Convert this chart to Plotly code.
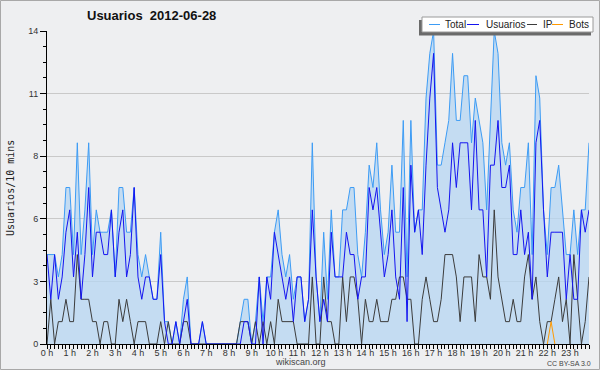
import plotly.graph_objects as go

# ---------------- data (10-minute samples, 00:00 .. 23:50) ----------------
hour_labels = ["0 h", "1 h", "2 h", "3 h", "4 h", "5 h", "6 h", "7 h", "8 h", "9 h",
               "10 h", "11 h", "12 h", "13 h", "14 h", "15 h", "16 h", "17 h", "18 h",
               "19 h", "20 h", "21 h", "22 h", "23 h"]

total = [4, 4, 4, 3, 4, 7, 7, 4, 9, 4,
         6, 9, 4, 6, 5, 5, 5, 6, 3, 7,
         7, 5, 5, 7, 4, 3, 4, 3, 2, 2,
         5, 1, 1, 0, 1, 0, 2, 3, 0, 0,
         0, 1, 0, 0, 0, 0, 0, 0, 0, 0,
         0, 1, 2, 2, 0, 1, 3, 1, 3, 3,
         5, 6, 4, 3, 4, 2, 3, 3, 1, 2,
         9, 3, 1, 5, 2, 6, 3, 3, 6, 6,
         7, 7, 4, 3, 5, 8, 7, 9, 6, 4,
         5, 8, 5, 5, 10, 3, 10, 5, 6, 6,
         11, 13, 14, 8, 8, 9, 10, 13, 10, 10,
         12, 12, 9, 11, 10, 9, 6, 10, 14, 13,
         9, 8, 9, 6, 5, 7, 7, 9, 4, 12,
         11, 6, 4, 7, 7, 8, 6, 4, 4, 6,
         4, 6, 6, 9]

usuarios = [4, 2, 4, 2, 3, 5, 6, 3, 5, 2,
            4, 7, 3, 5, 5, 4, 4, 6, 3, 5,
            6, 3, 4, 7, 3, 2, 3, 3, 2, 2,
            4, 1, 0, 0, 1, 0, 1, 2, 0, 0,
            0, 1, 0, 0, 0, 0, 0, 0, 0, 0,
            0, 0, 1, 1, 0, 0, 3, 0, 3, 2,
            5, 4, 3, 2, 3, 1, 3, 3, 1, 2,
            6, 3, 1, 2, 1, 5, 3, 3, 3, 5,
            4, 4, 2, 3, 3, 7, 6, 7, 5, 3,
            4, 6, 3, 2, 7, 1, 8, 5, 6, 4,
            8, 11, 13, 7, 6, 5, 6, 9, 7, 9,
            9, 9, 6, 10, 6, 6, 3, 8, 8, 10,
            7, 7, 8, 4, 4, 6, 4, 5, 2, 9,
            10, 6, 3, 5, 5, 5, 5, 2, 4, 2,
            2, 6, 5, 6]

ip = [0, 2, 0, 1, 1, 2, 1, 1, 4, 2,
      2, 2, 1, 1, 0, 1, 1, 0, 0, 2,
      1, 2, 1, 0, 1, 1, 1, 0, 0, 0,
      1, 0, 1, 0, 0, 0, 1, 1, 0, 0,
      0, 0, 0, 0, 0, 0, 0, 0, 0, 0,
      0, 1, 1, 1, 0, 1, 0, 1, 0, 1,
      0, 2, 1, 1, 1, 1, 0, 0, 0, 0,
      3, 0, 0, 3, 1, 1, 0, 0, 3, 1,
      3, 3, 2, 0, 2, 1, 1, 2, 1, 1,
      1, 2, 2, 3, 3, 2, 2, 0, 0, 2,
      3, 2, 1, 1, 2, 4, 4, 4, 3, 1,
      3, 3, 3, 1, 4, 3, 3, 2, 6, 3,
      2, 1, 1, 2, 1, 1, 3, 4, 2, 3,
      1, 0, 1, 1, 2, 3, 1, 2, 0, 4,
      2, 0, 1, 3]

bots = [0] * 133 + [1] + [0] * 10

y_tickvals = [0, 2.8, 5.6, 8.4, 11.2, 14]
y_ticktext = ["0", "3", "6", "8", "11", "14"]

# ---------------- geometry helpers (pixel -> paper) ----------------
W, H = 600, 370
L, R, T, B = 47, 11, 31, 26
PW, PH = W - L - R, H - T - B


def px(xp):
    return (xp - L) / PW


def py(yp):
    return (H - B - yp) / PH


n = len(total)
x = [i / 6 for i in range(n)]
# bots: only draw the segments around non-zero samples
bots_plot = [v if (v or (i > 0 and bots[i - 1]) or (i < n - 1 and bots[i + 1])) else None
             for i, v in enumerate(bots)]

BG = "#eeeff1"
C_TOTAL = "#3d9cf5"
C_USR = "#1414f0"
C_IP = "#3c3c3c"
C_BOTS = "#ff9900"

fig = go.Figure()
fig.add_trace(go.Scatter(x=x, y=total, mode="lines", name="Total",
                         line=dict(color=C_TOTAL, width=1),
                         fill="tozeroy", fillcolor="rgba(182,213,242,0.75)",
                         showlegend=False, hoverinfo="skip"))
fig.add_trace(go.Scatter(x=x, y=ip, mode="lines", name="IP",
                         line=dict(color=C_IP, width=1), showlegend=False))
fig.add_trace(go.Scatter(x=x, y=usuarios, mode="lines", name="Usuarios",
                         line=dict(color=C_USR, width=1), showlegend=False))
fig.add_trace(go.Scatter(x=x, y=bots_plot, mode="lines", name="Bots",
                         line=dict(color=C_BOTS, width=1), showlegend=False,
                         connectgaps=False))

tickfont = dict(family="Liberation Sans", size=9, color="#333333")

fig.update_layout(
    width=W, height=H,
    margin=dict(l=L, r=R, t=T, b=B, pad=0),
    paper_bgcolor=BG, plot_bgcolor=BG,
    showlegend=False,
    xaxis=dict(range=[0, (n - 1) / 6], tickmode="array",
               tickvals=list(range(24)), ticktext=hour_labels,
               ticks="outside", ticklen=4, tickcolor="black", tickwidth=1,
               showline=True, linecolor="black", linewidth=1,
               showgrid=False, zeroline=False, tickfont=tickfont,
               automargin=False, ticklabelstandoff=-4,
               minor=dict(dtick=1 / 6, tick0=0, ticks="outside", ticklen=4,
                          tickcolor="black", showgrid=False)),
    yaxis=dict(range=[0, 14], tickmode="array", tickvals=y_tickvals,
               ticktext=y_ticktext, ticks="outside", ticklen=6,
               tickcolor="black", showline=True, linecolor="black", linewidth=1,
               showgrid=True, gridcolor="#c9c9c9", gridwidth=1,
               zeroline=False, tickfont=tickfont, automargin=False,
               minor=dict(dtick=0.7, tick0=0, ticks="outside", ticklen=3,
                          tickcolor="black", showgrid=False)),
)

shapes = []
annotations = []

# outer frame
shapes.append(dict(type="rect", xref="paper", yref="paper",
                   x0=px(0.5), x1=px(599.5), y0=py(369.5), y1=py(0.5),
                   line=dict(color="#a8a8a8", width=1)))

# legend box with shadow
shapes.append(dict(type="rect", xref="paper", yref="paper",
                   x0=px(419), x1=px(591), y0=py(35.5), y1=py(20),
                   fillcolor="#6a6a6a", line=dict(width=0)))
shapes.append(dict(type="rect", xref="paper", yref="paper",
                   x0=px(422), x1=px(593), y0=py(32), y1=py(17),
                   fillcolor="white", line=dict(color="#9a9a9a", width=1)))

legend_items = [("Total", C_TOTAL, 429, 440, 443),
                ("Usuarios", C_USR, 467, 479, 484),
                ("IP", C_IP, 527, 537, 541),
                ("Bots", C_BOTS, 552, 563, 567)]
for label, col, a, b, tx in legend_items:
    shapes.append(dict(type="line", xref="paper", yref="paper",
                       x0=px(a), x1=px(b), y0=py(24.5), y1=py(24.5),
                       line=dict(color=col, width=1)))
    annotations.append(dict(xref="paper", yref="paper", x=px(tx), y=py(24.5),
                            xanchor="left", yanchor="middle", showarrow=False,
                            text=label,
                            font=dict(family="Liberation Sans", size=10, color="#222222")))

# title
annotations.append(dict(xref="paper", yref="paper", x=px(85), y=py(16),
                        xanchor="left", yanchor="middle", showarrow=False,
                        text="Usuarios\u00a0\u00a02012-06-28",
                        font=dict(family="Liberation Sans", size=13, color="#111111",
                                  weight="bold")))
# y axis title
annotations.append(dict(xref="paper", yref="paper", x=px(10), y=py(188),
                        xanchor="center", yanchor="middle", showarrow=False,
                        textangle=-90, text="Usuarios/10 mins",
                        font=dict(family="DejaVu Sans Mono", size=10, color="#222222")))
# footer
annotations.append(dict(xref="paper", yref="paper", x=px(300), y=py(362),
                        xanchor="center", yanchor="middle", showarrow=False,
                        text="wikiscan.org",
                        font=dict(family="Liberation Sans", size=9, color="#444444")))
annotations.append(dict(xref="paper", yref="paper", x=px(569), y=py(363),
                        xanchor="center", yanchor="middle", showarrow=False,
                        text="CC BY-SA 3.0",
                        font=dict(family="Liberation Sans", size=7, color="#444444")))

fig.update_layout(shapes=shapes, annotations=annotations)
fig.write_html("out.html",
               config={"displayModeBar": False},
               post_script="document.body.style.margin='0';"
                           "document.body.style.overflow='hidden';")
